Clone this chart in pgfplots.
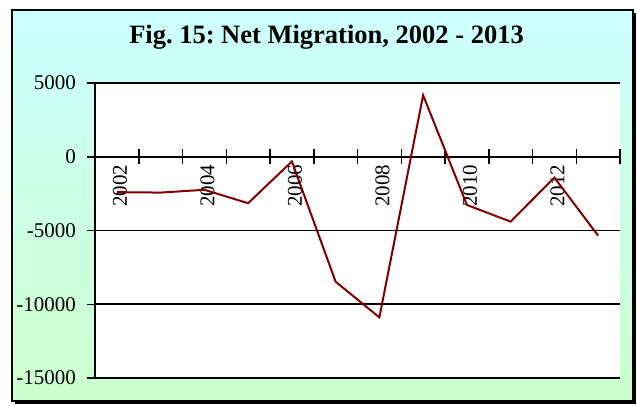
\documentclass[border=0pt]{standalone}
\usepackage{fontspec}
\setmainfont{Liberation Serif}
\usepackage{pgfplots}
\pgfplotsset{compat=1.18}
\definecolor{topc}{RGB}{204,255,255}
\definecolor{botc}{RGB}{204,255,204}
\definecolor{linec}{RGB}{128,0,0}
\frenchspacing
\begin{document}
\begin{tikzpicture}[x=1bp,y=1bp]
\useasboundingbox (-95,-28) rectangle (542,378);
\fill[black] (-80,-26) rectangle (541,365);
\shade[top color=topc, bottom color=botc] (-83,-23) rectangle (538,368);
\draw[line width=1.5bp] (-83,-23) rectangle (538,368);
\node[anchor=base, font=\fontsize{26.5bp}{31bp}\selectfont\bfseries] at (231.5,334.7) {Fig. 15: Net Migration, 2002 - 2013};
\begin{axis}[
  at={(0,0)}, anchor=south west, scale only axis, width=525bp, height=295bp,
  xmin=2001.5, xmax=2013.5, ymin=-15000, ymax=5000,
  axis x line=middle, axis y line=left,
  axis line style={-, line width=1.5bp, black},
  axis background/.style={fill=white},
  ytick={-15000,-10000,...,5000},
  xtick={2002,2004,...,2012},
  minor xtick={2002.5,2003.5,...,2013.5},
  tick align=center,
  major tick length=16bp, minor tick length=15bp,
  tick style={black, line width=1.5bp},
  major x tick style={draw=none},
  ymajorgrids,
  major grid style={black, line width=1.8bp},
  scaled y ticks=false, scaled x ticks=false,
  /pgf/number format/1000 sep={},
  /pgf/number format/assume math mode=true,
  tick label style={font=\fontsize{21bp}{25bp}\selectfont},
  xticklabel style={rotate=90, anchor=east, inner sep=0pt, yshift=-3bp},
  yticklabel style={anchor=east, inner sep=0pt, xshift=-11bp},
]
\addplot[color=linec, line width=2bp, mark=none] coordinates {
(2002,-2400) (2003,-2430) (2004,-2240) (2005,-3150) (2006,-320) (2007,-8470)
(2008,-10890) (2009,4170) (2010,-3265) (2011,-4400) (2012,-1410) (2013,-5350)
};
\end{axis}
\end{tikzpicture}
\end{document}
